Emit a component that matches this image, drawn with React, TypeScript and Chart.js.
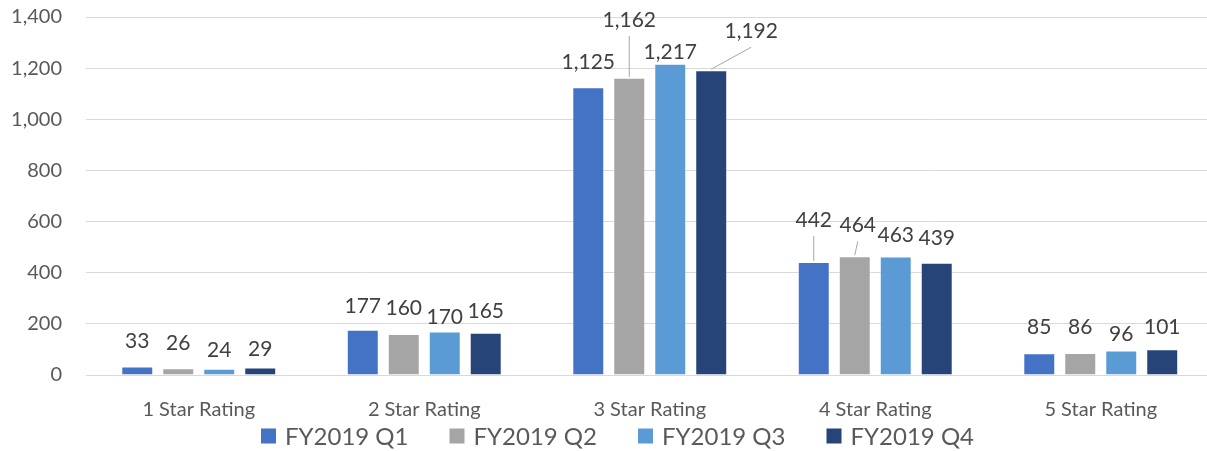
import React, { useEffect, useRef } from "react";
import { Chart, registerables } from "chart.js";

Chart.register(...registerables);

const categories = ["1 Star Rating", "2 Star Rating", "3 Star Rating", "4 Star Rating", "5 Star Rating"];
const seriesNames = ["FY2019 Q1", "FY2019 Q2", "FY2019 Q3", "FY2019 Q4"];
const q1 = [33, 177, 1125, 442, 85];
const q2 = [26, 160, 1162, 464, 86];
const q3 = [24, 170, 1217, 463, 96];
const q4 = [29, 165, 1192, 439, 101];
const yMin = 0;
const yMax = 1400;
const yStep = 200;

const colors = ["#4472C4", "#A5A5A5", "#5B9BD5", "#264478"];

// label nudges (style only): [dx, dy, leader]
const labelNudges: [number, number, boolean][][] = [
  [[0, 0, false], [0, 1, false], [0, 0, false], [0, -17, true], [0, -1, false]],
  [[0, 0, false], [0, -1, false], [0, -33, true], [3, -6, true], [0, -1, false]],
  [[0, 6, false], [0, 11, false], [0, 13, false], [0, 4, false], [0, 9, false]],
  [[0, 7, false], [0, 3, false], [40, -14, true], [0, 0, false], [0, 3, false]],
];

const FONT = "Lato";

const fmt = (v: number) => v.toLocaleString("en-US");

const labelPlugin = {
  id: "barLabels",
  afterDatasetsDraw(chart: any) {
    const ctx = chart.ctx;
    ctx.save();
    ctx.font = `21px ${FONT}`;
    ctx.textAlign = "center";
    ctx.textBaseline = "middle";
    chart.data.datasets.forEach((ds: any, di: number) => {
      const meta = chart.getDatasetMeta(di);
      meta.data.forEach((el: any, i: number) => {
        const [dx, dy, leader] = labelNudges[di][i];
        const lx = el.x + dx;
        const ly = el.y - 25 + dy;
        if (leader) {
          ctx.strokeStyle = "#A6A6A6";
          ctx.lineWidth = 1;
          ctx.beginPath();
          ctx.moveTo(lx + (dx > 0 ? 0 : dx ? 1 : 0), ly + 16);
          ctx.lineTo(el.x, el.y - 1);
          ctx.stroke();
        }
        ctx.fillStyle = "#404040";
        ctx.fillText(fmt(ds.data[i]), lx, ly);
      });
    });
    ctx.restore();
  },
};

const legendPlugin = {
  id: "bottomLegend",
  afterDraw(chart: any) {
    const ctx = chart.ctx;
    ctx.save();
    ctx.font = `24px ${FONT}`;
    ctx.textBaseline = "middle";
    ctx.textAlign = "left";
    const box = 15;
    const gapText = 9;
    const gapItem = 41;
    const items = chart.data.datasets.map((ds: any) => ({
      text: ds.label,
      color: ds.backgroundColor,
      w: box + gapText + ctx.measureText(ds.label).width,
    }));
    const total = items.reduce((s: number, it: any) => s + it.w, 0) + gapItem * (items.length - 1);
    let x = chart.width / 2 - total / 2;
    const cy = chart.height - 15;
    items.forEach((it: any) => {
      ctx.fillStyle = it.color;
      ctx.fillRect(x, cy - box / 2, box, box);
      ctx.fillStyle = "#595959";
      ctx.fillText(it.text, x + box + gapText, cy + 1);
      x += it.w + gapItem;
    });
    ctx.restore();
  },
};

export default function App() {
  const ref = useRef<HTMLCanvasElement | null>(null);
  useEffect(() => {
    if (!ref.current) return;
    const series = [q1, q2, q3, q4];
    const chart = new Chart(ref.current, {
      type: "bar",
      data: {
        labels: categories,
        datasets: series.map((d, i) => ({
          label: seriesNames[i],
          data: d,
          backgroundColor: colors[i],
          borderColor: "rgba(255,255,255,0.35)",
          borderWidth: 1,
          categoryPercentage: 0.727,
          barPercentage: 0.78,
        })),
      },
      options: {
        responsive: false,
        animation: false,
        devicePixelRatio: 1,
        layout: { padding: { left: 0, right: 21.5, top: 17, bottom: 26 } },
        plugins: {
          tooltip: { enabled: false },
          legend: { display: false },
        },
        scales: {
          x: {
            grid: { display: false },
            border: { display: false },
            ticks: {
              color: "#595959",
              font: { family: FONT, size: 20 },
              padding: 15,
            },
            afterFit: (s: any) => {
              s.height = 50;
            },
          },
          y: {
            min: yMin,
            max: yMax,
            border: { display: false },
            grid: {
              color: "#D9D9D9",
              lineWidth: 1,
              drawTicks: true,
              tickLength: 20,
              tickColor: "rgba(0,0,0,0)",
            },
            ticks: {
              stepSize: yStep,
              color: "#595959",
              font: { family: FONT, size: 20 },
              padding: 4,
              callback: (v: any) => fmt(Number(v)),
            },
            afterFit: (s: any) => {
              s.width = 86;
            },
          },
        },
      },
      plugins: [labelPlugin, legendPlugin],
    });
    return () => chart.destroy();
  }, []);
  return (
    <div
      style={{
        position: "absolute",
        left: 0,
        top: 0,
        width: 1207,
        height: 451,
        overflow: "hidden",
        background: "#fff",
      }}
    >
      <canvas ref={ref} width={1235} height={451} style={{ display: "block" }} />
    </div>
  );
}
